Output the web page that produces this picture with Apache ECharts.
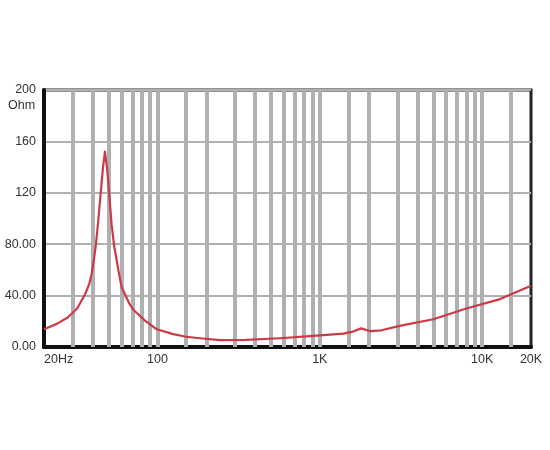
<!DOCTYPE html>
<html>
<head>
<meta charset="utf-8">
<script src="https://cdn.jsdelivr.net/npm/echarts@6/dist/echarts.min.js"></script>
<style>html,body{margin:0;padding:0;background:#fff}#c{width:550px;height:450px}</style>
</head>
<body>
<div id="c"></div>
<script>
const freqHz = [20, 24, 28, 32, 35.8, 38, 39.3, 40.8, 41.8, 43.3, 44.7, 46.2, 47.5, 49, 50.5, 52.2, 54.2, 57.4, 60, 63, 67, 71, 83, 99, 125, 150, 183, 243, 350, 570, 910, 1400, 1600, 1800, 2050, 2400, 3100, 5000, 8000, 12900, 20000];
const impedanceOhm = [13.8, 18, 23, 30, 41, 49, 56.8, 70, 80, 100, 120, 140, 152, 138, 118, 95, 78, 60, 47, 41, 34, 29, 21, 13.8, 10, 8, 6.8, 5.4, 5.5, 6.8, 8.6, 10.4, 12, 14.5, 12.3, 13, 16.4, 21.6, 30, 37.3, 47.7];
const gridFreqs = [30, 40, 50, 60, 70, 80, 90, 100, 150, 200, 300, 400, 500, 600, 700, 800, 900, 1000, 1500, 2000, 3000, 4000, 5000, 6000, 7000, 8000, 9000, 10000, 15000];
const xTickValues = [20, 100, 1000, 10000, 20000];
const xTickLabels = ['20Hz', '100', '1K', '10K', '20K'];
const yTickValues = [0, 40, 80, 120, 160, 200];
const yTickLabels = ['0.00', '40.00', '80.00', '120', '160', '200'];
const yUnit = 'Ohm';

const chart = echarts.init(document.getElementById('c'), null, {renderer: 'canvas'});
const font = 'Liberation Sans, Arial, sans-serif';
chart.setOption({
  backgroundColor: '#fff',
  animation: false,
  grid: {left: 44, right: 19, top: 90, bottom: 103, show: true, borderColor: '#222', borderWidth: 3, backgroundColor: '#fff'},
  xAxis: {
    type: 'log', logBase: 10, min: 20, max: 20000,
    axisLine: {show: true, lineStyle: {color: '#111', width: 4}},
    axisTick: {show: false},
    splitLine: {show: false},
    axisLabel: {
      margin: 6, color: '#333', fontSize: 12.5, fontFamily: font,
      alignMinLabel: 'left',
      formatter: function (v) {
        const r = Math.round(v);
        const i = xTickValues.indexOf(r);
        return i >= 0 ? xTickLabels[i] : '';
      }
    }
  },
  yAxis: {
    type: 'value', min: 0, max: 200, interval: 40,
    axisLine: {show: true, lineStyle: {color: '#111', width: 4}},
    axisTick: {show: false},
    splitLine: {show: true, lineStyle: {color: '#b0b0b0', width: 2}},
    axisLabel: {
      margin: 8, color: '#333', fontSize: 12.5, fontFamily: font,
      formatter: function (v) {
        const i = yTickValues.indexOf(Math.round(v));
        return i >= 0 ? yTickLabels[i] : '';
      }
    }
  },
  graphic: [{
    type: 'text', left: 8, top: 99,
    style: {text: yUnit, fill: '#333', font: '12.5px ' + font}
  }],
  series: [{
    type: 'line',
    data: freqHz.map((f, i) => [f, impedanceOhm[i]]),
    showSymbol: false,
    smooth: false,
    z: 3,
    lineStyle: {color: '#cc3a46', width: 2.2, join: 'round'},
    markLine: {
      silent: true, z: 1, symbol: 'none',
      label: {show: false},
      lineStyle: {color: '#b0b0b0', width: 4, type: 'solid'},
      data: gridFreqs.map(f => ({xAxis: f}))
    }
  }]
});
</script>
</body>
</html>
